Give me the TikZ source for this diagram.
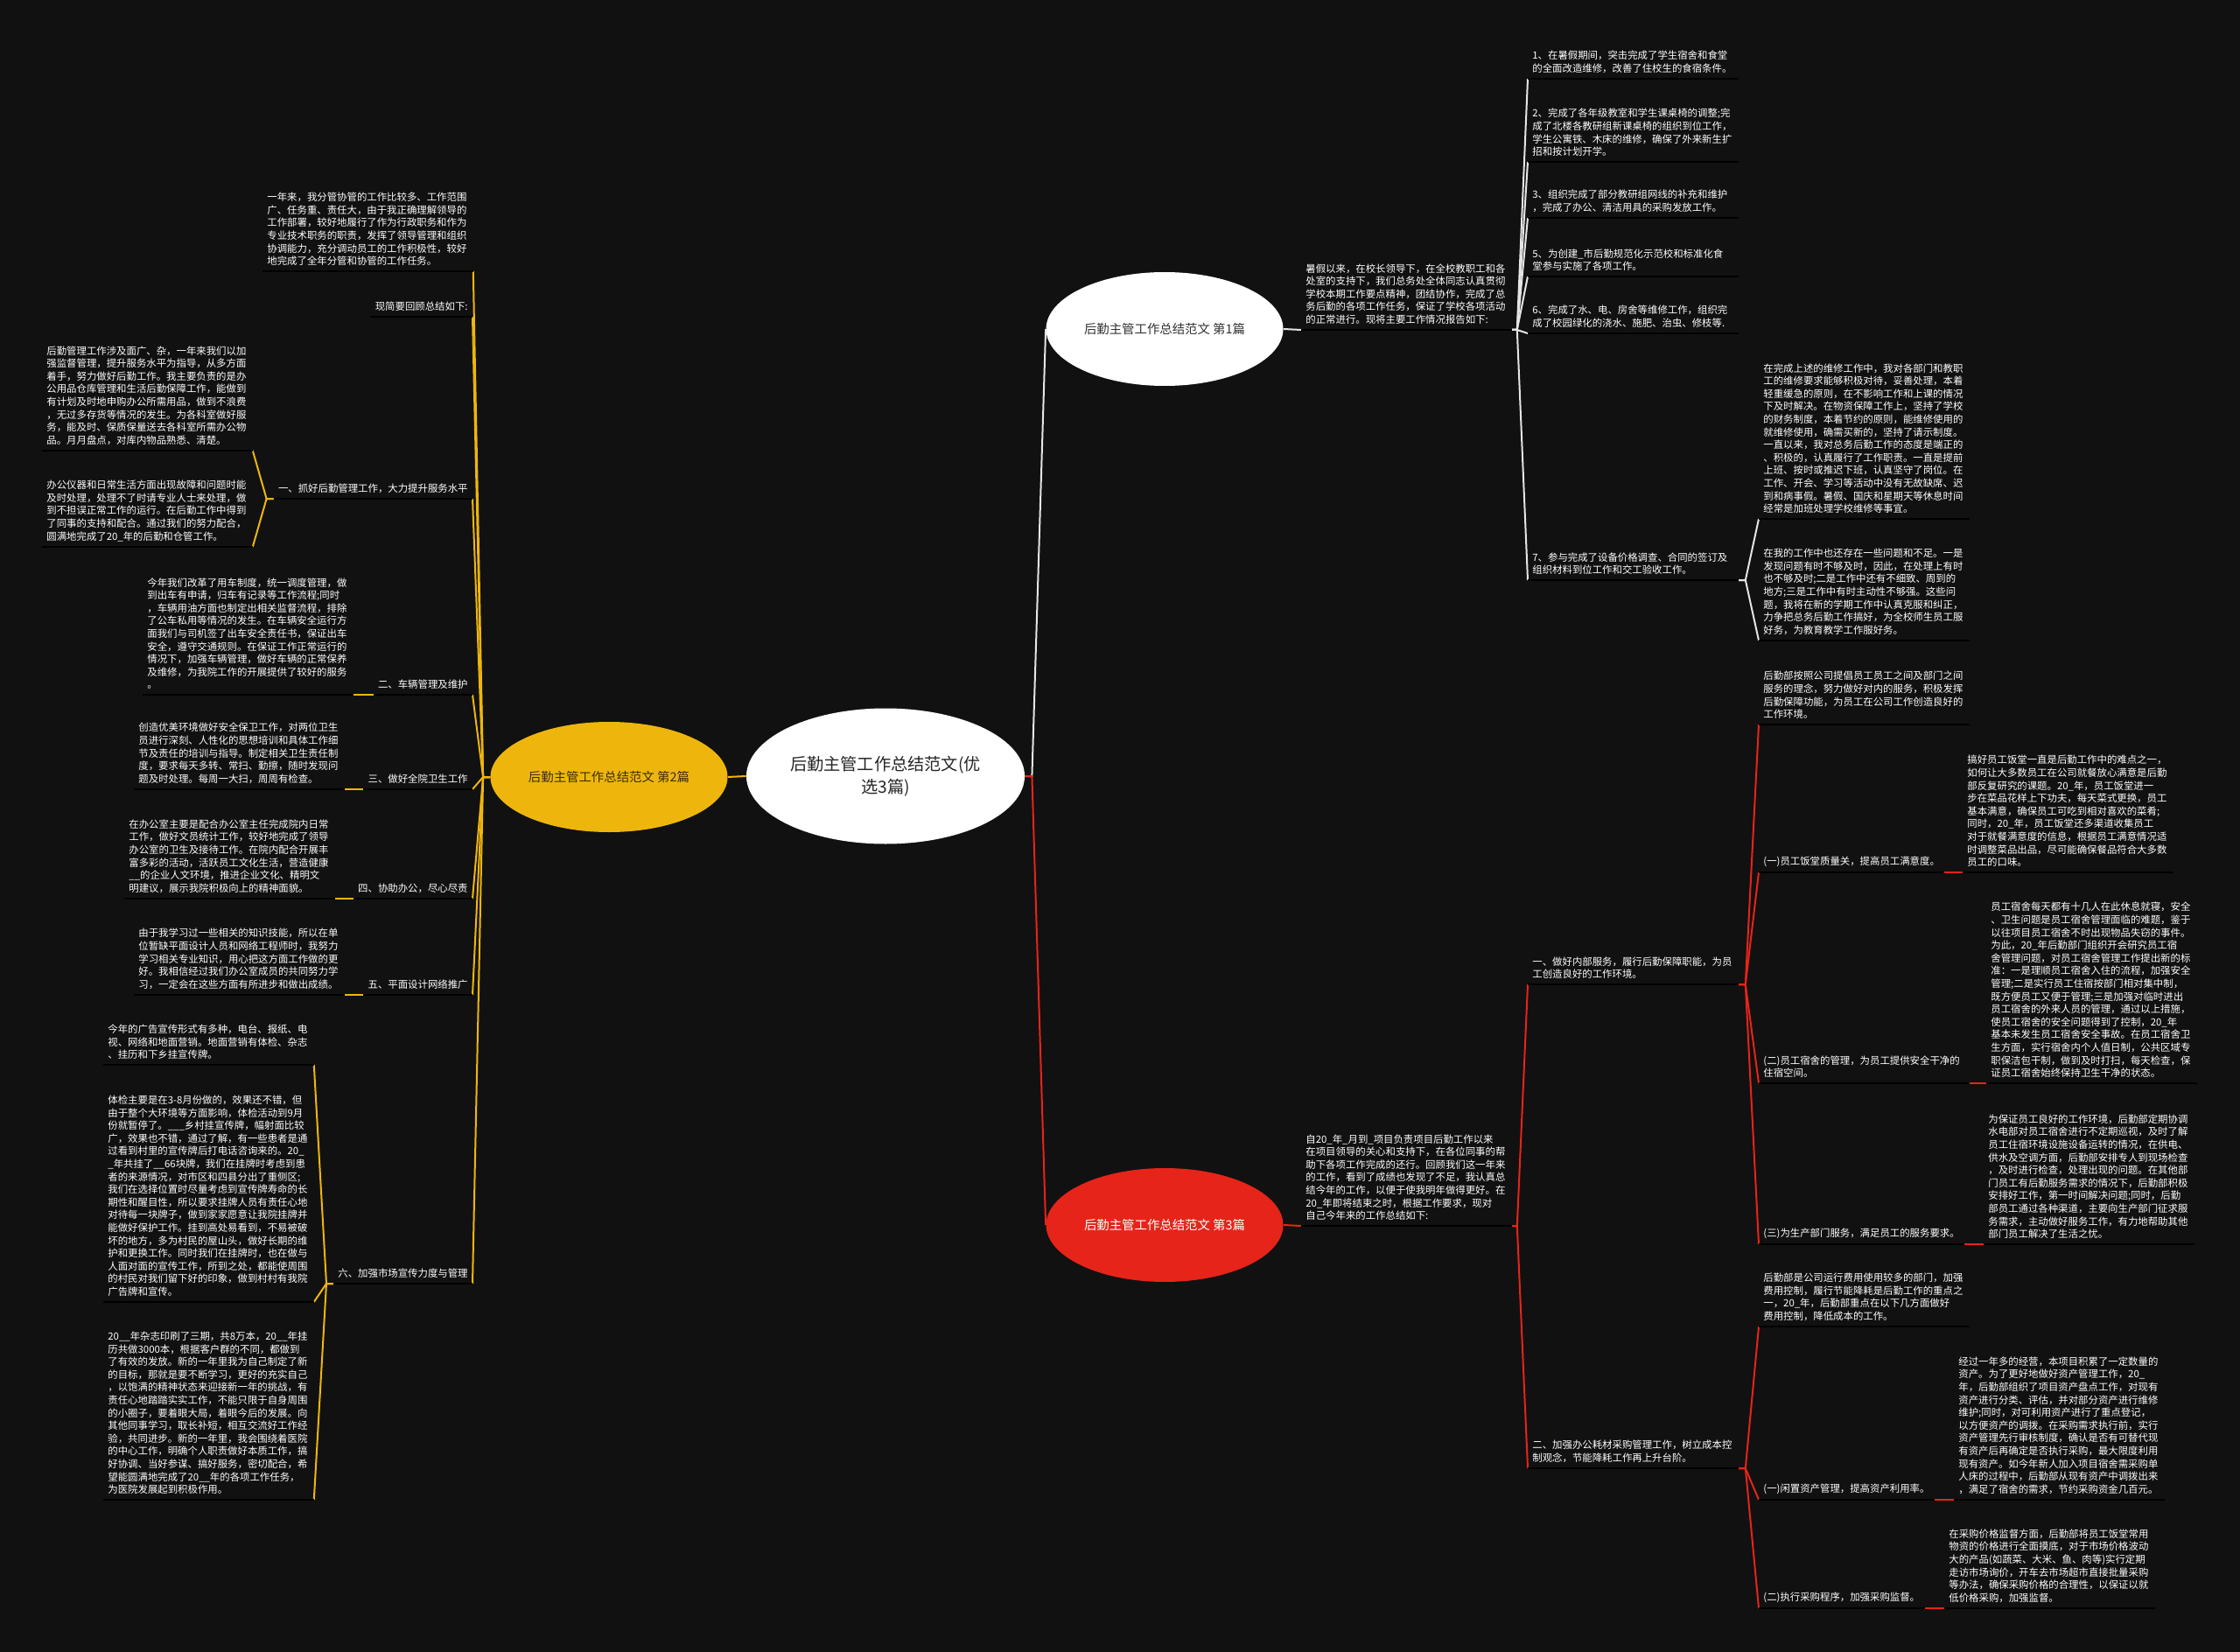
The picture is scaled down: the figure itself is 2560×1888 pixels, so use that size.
\documentclass[tikz,border=0pt]{standalone}
\usepackage{fontspec}
\setmainfont{Noto Sans CJK SC}
\usetikzlibrary{shapes.geometric}

\definecolor{bgc}{RGB}{17,17,17}
\definecolor{gold}{RGB}{238,182,12}
\definecolor{redc}{RGB}{230,36,26}
\definecolor{pinkgray}{RGB}{216,206,206}

\begin{document}
\begin{tikzpicture}[
    x=0.5pt, y=-0.5pt,
    line/.style  = {line width=1pt},
    wline/.style = {line, draw=white!90!black},
    yline/.style = {line, draw=gold},
    rline/.style = {line, draw=redc},
    uline/.style = {line width=1.1pt, draw=black},
    topic/.style = {ellipse, inner sep=0pt, minimum width=135.5pt, minimum height=65pt,
                    font=\fontsize{7.2pt}{9pt}\selectfont},
    txt/.style   = {anchor=south west, align=left, inner xsep=2.5pt, inner ysep=3pt,
                    text=white, font=\fontsize{5.7pt}{7.3pt}\selectfont},
    para/.style  = {txt, text width=115pt}
]

\fill[bgc] (0,0) rectangle (2560,1888);
\useasboundingbox (0,0) rectangle (2560,1888);

% centre and the three topics
\node[topic, fill=white, text=black!85, minimum width=159pt, minimum height=77.5pt,
      align=center, font=\fontsize{9.6pt}{13pt}\selectfont] (c) at (1012,887)
      {后勤主管工作总结范文(优\\选3篇)};
\node[topic, fill=white, text=black!80] (b1) at (1331,376) {后勤主管工作总结范文 第1篇};
\node[topic, fill=gold, text=black!75!gold, minimum height=63pt] (b2) at (696,888) {后勤主管工作总结范文 第2篇};
\node[topic, fill=redc, text=white] (b3) at (1331,1400) {后勤主管工作总结范文 第3篇};

\draw[yline] (c.west) -- (b2.east);
\draw[wline] (c.east) -- ++(8,0) -- (b1.west);
\draw[rline] (c.east) -- ++(8,0) -- (b3.west);

% ---- 第1篇 ----
\begin{scope}[every node/.append style={text=pinkgray}]
\node[para] (i0) at (1487,377) {暑假以来，在校长领导下，在全校教职工和各\\处室的支持下，我们总务处全体同志认真贯彻\\学校本期工作要点精神，团结协作，完成了总\\务后勤的各项工作任务，保证了学校各项活动\\的正常进行。现将主要工作情况报告如下:};
\node[para] (i1) at (1746,90) {1、在暑假期间，突击完成了学生宿舍和食堂\\的全面改造维修，改善了住校生的食宿条件。};
\node[para] (i2) at (1746,185) {2、完成了各年级教室和学生课桌椅的调整;完\\成了北楼各教研组新课桌椅的组织到位工作，\\学生公寓铁、木床的维修，确保了外来新生扩\\招和按计划开学。};
\node[para] (i3) at (1746,249) {3、组织完成了部分教研组网线的补充和维护\\，完成了办公、清洁用具的采购发放工作。};
\node[para] (i5) at (1746,316) {5、为创建\_市后勤规范化示范校和标准化食\\堂参与实施了各项工作。};
\node[para] (i6) at (1746,381) {6、完成了水、电、房舍等维修工作，组织完\\成了校园绿化的浇水、施肥、治虫、修枝等.};
\node[para] (i7) at (1746,663) {7、参与完成了设备价格调查、合同的签订及\\组织材料到位工作和交工验收工作。};
\node[para] (i7a) at (2010,593) {在完成上述的维修工作中，我对各部门和教职\\工的维修要求能够积极对待，妥善处理，本着\\轻重缓急的原则，在不影响工作和上课的情况\\下及时解决。在物资保障工作上，坚持了学校\\的财务制度，本着节约的原则，能维修使用的\\就维修使用，确需买新的，坚持了请示制度。\\一直以来，我对总务后勤工作的态度是端正的\\、积极的，认真履行了工作职责。一直是提前\\上班、按时或推迟下班，认真坚守了岗位。在\\工作、开会、学习等活动中没有无故缺席、迟\\到和病事假。暑假、国庆和星期天等休息时间\\经常是加班处理学校维修等事宜。};
\node[para] (i7b) at (2010,732) {在我的工作中也还存在一些问题和不足。一是\\发现问题有时不够及时，因此，在处理上有时\\也不够及时;二是工作中还有不细致、周到的\\地方;三是工作中有时主动性不够强。这些问\\题，我将在新的学期工作中认真克服和纠正，\\力争把总务后勤工作搞好，为全校师生员工服\\好务，为教育教学工作服好务。};
\end{scope}

\draw[wline] (b1.east) -- (i0.south west);
\foreach \k in {i1,i2,i3,i5,i6,i7}
    \draw[wline] (i0.south east) -- ++(6,0) -- (\k.south west);
\foreach \k in {i7a,i7b}
    \draw[wline] (i7.south east) -- ++(8,0) -- (\k.south west);

% ---- 第2篇 ----
\node[para] (l0) at (300,310) {一年来，我分管协管的工作比较多、工作范围\\广、任务重、责任大，由于我正确理解领导的\\工作部署，较好地履行了作为行政职务和作为\\专业技术职务的职责，发挥了领导管理和组织\\协调能力，充分调动员工的工作积极性，较好\\地完成了全年分管和协管的工作任务。};
\node[txt, anchor=south east] (l1) at (540,362) {现简要回顾总结如下:};
\node[txt, anchor=south east] (s1) at (540,570) {一、抓好后勤管理工作，大力提升服务水平};
\node[txt, anchor=south east] (s2) at (540,794) {二、车辆管理及维护};
\node[txt, anchor=south east] (s3) at (540,902) {三、做好全院卫生工作};
\node[txt, anchor=south east] (s4) at (540,1027) {四、协助办公，尽心尽责};
\node[txt, anchor=south east] (s5) at (540,1137) {五、平面设计网络推广};
\node[txt, anchor=south east] (s6) at (540,1467) {六、加强市场宣传力度与管理};

\node[para] (c11) at (48,515) {后勤管理工作涉及面广、杂，一年来我们以加\\强监督管理，提升服务水平为指导，从多方面\\着手，努力做好后勤工作。我主要负责的是办\\公用品仓库管理和生活后勤保障工作，能做到\\有计划及时地申购办公所需用品，做到不浪费\\，无过多存货等情况的发生。为各科室做好服\\务，能及时、保质保量送去各科室所需办公物\\品。月月盘点，对库内物品熟悉、清楚。};
\node[para] (c12) at (48,625) {办公仪器和日常生活方面出现故障和问题时能\\及时处理，处理不了时请专业人士来处理，做\\到不担误正常工作的运行。在后勤工作中得到\\了同事的支持和配合。通过我们的努力配合，\\圆满地完成了20\_年的后勤和仓管工作。};
\node[para] (c21) at (163,794) {今年我们改革了用车制度，统一调度管理，做\\到出车有申请，归车有记录等工作流程;同时\\，车辆用油方面也制定出相关监督流程，排除\\了公车私用等情况的发生。在车辆安全运行方\\面我们与司机签了出车安全责任书，保证出车\\安全，遵守交通规则。在保证工作正常运行的\\情况下，加强车辆管理，做好车辆的正常保养\\及维修，为我院工作的开展提供了较好的服务\\。};
\node[para] (c31) at (153,902) {创造优美环境做好安全保卫工作，对两位卫生\\员进行深刻、人性化的思想培训和具体工作细\\节及责任的培训与指导。制定相关卫生责任制\\度，要求每天多转、常扫、勤擦，随时发现问\\题及时处理。每周一大扫，周周有检查。};
\node[para] (c41) at (142,1027) {在办公室主要是配合办公室主任完成院内日常\\工作，做好文员统计工作，较好地完成了领导\\办公室的卫生及接待工作。在院内配合开展丰\\富多彩的活动，活跃员工文化生活，营造健康\\\_\_的企业人文环境，推进企业文化、精明文\\明建议，展示我院积极向上的精神面貌。};
\node[para] (c51) at (153,1137) {由于我学习过一些相关的知识技能，所以在单\\位暂缺平面设计人员和网络工程师时，我努力\\学习相关专业知识，用心把这方面工作做的更\\好。我相信经过我们办公室成员的共同努力学\\习，一定会在这些方面有所进步和做出成绩。};
\node[para] (c61) at (118,1217) {今年的广告宣传形式有多种，电台、报纸、电\\视、网络和地面营销。地面营销有体检、杂志\\、挂历和下乡挂宣传牌。};
\node[para] (c62) at (118,1488) {体检主要是在3-8月份做的，效果还不错，但\\由于整个大环境等方面影响，体检活动到9月\\份就暂停了。\_\_\_乡村挂宣传牌，幅射面比较\\广，效果也不错，通过了解，有一些患者是通\\过看到村里的宣传牌后打电话咨询来的。20\_\\\_年共挂了\_\_66块牌，我们在挂牌时考虑到患\\者的来源情况，对市区和四县分出了重侧区;\\我们在选择位置时尽量考虑到宣传牌寿命的长\\期性和醒目性，所以要求挂牌人员有责任心地\\对待每一块牌子，做到家家愿意让我院挂牌并\\能做好保护工作。挂到高处易看到，不易被破\\坏的地方，多为村民的屋山头，做好长期的维\\护和更换工作。同时我们在挂牌时，也在做与\\人面对面的宣传工作，所到之处，都能使周围\\的村民对我们留下好的印象，做到村村有我院\\广告牌和宣传。};
\node[para] (c63) at (118,1714) {20\_\_年杂志印刷了三期，共8万本，20\_\_年挂\\历共做3000本，根据客户群的不同，都做到\\了有效的发放。新的一年里我为自己制定了新\\的目标，那就是要不断学习，更好的充实自己\\，以饱满的精神状态来迎接新一年的挑战，有\\责任心地踏踏实实工作，不能只限于自身周围\\的小圈子，要着眼大局，着眼今后的发展。向\\其他同事学习，取长补短，相互交流好工作经\\验，共同进步。新的一年里，我会围绕着医院\\的中心工作，明确个人职责做好本质工作，搞\\好协调、当好参谋、搞好服务，密切配合，希\\望能圆满地完成了20\_\_年的各项工作任务，\\为医院发展起到积极作用。};

\foreach \k in {l0,l1,s1,s2,s3,s4,s5,s6}
    \draw[yline] (b2.west) -- ++(-8,0) -- (\k.south east);
\foreach \p/\k in {s1/c11, s1/c12, s2/c21, s3/c31, s4/c41, s5/c51, s6/c61, s6/c62, s6/c63}
    \draw[yline] (\p.south west) -- ++(-8,0) -- (\k.south east);

% ---- 第3篇 ----
\node[para] (r0) at (1487,1401) {自20\_年\_月到\_项目负责项目后勤工作以来\\在项目领导的关心和支持下，在各位同事的帮\\助下各项工作完成的还行。回顾我们这一年来\\的工作，看到了成绩也发现了不足，我认真总\\结今年的工作，以便于使我明年做得更好。在\\20\_年即将结束之时，根据工作要求，现对\\自己今年来的工作总结如下:};
\node[para] (r1) at (1746,1125) {一、做好内部服务，履行后勤保障职能，为员\\工创造良好的工作环境。};
\node[para] (r2) at (1746,1678) {二、加强办公耗材采购管理工作，树立成本控\\制观念，节能降耗工作再上升台阶。};

\node[para] (r11) at (2010,828) {后勤部按照公司提倡员工员工之间及部门之间\\服务的理念，努力做好对内的服务，积极发挥\\后勤保障功能，为员工在公司工作创造良好的\\工作环境。};
\node[txt] (r12) at (2010,997) {(一)员工饭堂质量关，提高员工满意度。};
\node[para] (r12a) at (2243,997) {搞好员工饭堂一直是后勤工作中的难点之一，\\如何让大多数员工在公司就餐放心满意是后勤\\部反复研究的课题。20\_年，员工饭堂进一\\步在菜品花样上下功夫，每天菜式更换，员工\\基本满意，确保员工可吃到相对喜欢的菜肴;\\同时，20\_年，员工饭堂还多渠道收集员工\\对于就餐满意度的信息，根据员工满意情况适\\时调整菜品出品，尽可能确保餐品符合大多数\\员工的口味。};
\node[para] (r13) at (2010,1238) {(二)员工宿舍的管理，为员工提供安全干净的\\住宿空间。};
\node[para] (r13a) at (2270,1238) {员工宿舍每天都有十几人在此休息就寝，安全\\、卫生问题是员工宿舍管理面临的难题，鉴于\\以往项目员工宿舍不时出现物品失窃的事件。\\为此，20\_年后勤部门组织开会研究员工宿\\舍管理问题，对员工宿舍管理工作提出新的标\\准：一是理顺员工宿舍入住的流程，加强安全\\管理;二是实行员工住宿按部门相对集中制，\\既方便员工又便于管理;三是加强对临时进出\\员工宿舍的外来人员的管理，通过以上措施，\\使员工宿舍的安全问题得到了控制，20\_年\\基本未发生员工宿舍安全事故。在员工宿舍卫\\生方面，实行宿舍内个人值日制，公共区域专\\职保洁包干制，做到及时打扫，每天检查，保\\证员工宿舍始终保持卫生干净的状态。};
\node[txt] (r14) at (2010,1422) {(三)为生产部门服务，满足员工的服务要求。};
\node[para] (r14a) at (2267,1422) {为保证员工良好的工作环境，后勤部定期协调\\水电部对员工宿舍进行不定期巡视，及时了解\\员工住宿环境设施设备运转的情况，在供电、\\供水及空调方面，后勤部安排专人到现场检查\\，及时进行检查，处理出现的问题。在其他部\\门员工有后勤服务需求的情况下，后勤部积极\\安排好工作，第一时间解决问题;同时，后勤\\部员工通过各种渠道，主要向生产部门征求服\\务需求，主动做好服务工作，有力地帮助其他\\部门员工解决了生活之忧。};

\node[para] (r21) at (2010,1516) {后勤部是公司运行费用使用较多的部门，加强\\费用控制，履行节能降耗是后勤工作的重点之\\一，20\_年，后勤部重点在以下几方面做好\\费用控制，降低成本的工作。};
\node[txt] (r22) at (2010,1714) {(一)闲置资产管理，提高资产利用率。};
\node[para] (r22a) at (2233,1714) {经过一年多的经营，本项目积累了一定数量的\\资产。为了更好地做好资产管理工作，20\_\\年，后勤部组织了项目资产盘点工作，对现有\\资产进行分类、评估，并对部分资产进行维修\\维护;同时，对可利用资产进行了重点登记，\\以方便资产的调拨。在采购需求执行前，实行\\资产管理先行审核制度，确认是否有可替代现\\有资产后再确定是否执行采购，最大限度利用\\现有资产。如今年新人加入项目宿舍需采购单\\人床的过程中，后勤部从现有资产中调拨出来\\，满足了宿舍的需求，节约采购资金几百元。};
\node[txt] (r23) at (2010,1838) {(二)执行采购程序，加强采购监督。};
\node[para] (r23a) at (2222,1838) {在采购价格监督方面，后勤部将员工饭堂常用\\物资的价格进行全面摸底，对于市场价格波动\\大的产品(如蔬菜、大米、鱼、肉等)实行定期\\走访市场询价，开车去市场超市直接批量采购\\等办法，确保采购价格的合理性，以保证以就\\低价格采购，加强监督。};

\draw[rline] (b3.east) -- (r0.south west);
\foreach \k in {r1,r2}
    \draw[rline] (r0.south east) -- ++(6,0) -- (\k.south west);
\foreach \k in {r11,r12,r13,r14}
    \draw[rline] (r1.south east) -- ++(8,0) -- (\k.south west);
\foreach \k in {r21,r22,r23}
    \draw[rline] (r2.south east) -- ++(8,0) -- (\k.south west);
\foreach \p/\k in {r12/r12a, r13/r13a, r14/r14a, r22/r22a, r23/r23a}
    \draw[rline] (\p.south east) -- (\k.south west);

% underlines
\foreach \n in {i0,i1,i2,i3,i5,i6,i7,i7a,i7b,
                l0,l1,s1,s2,s3,s4,s5,s6,c11,c12,c21,c31,c41,c51,c61,c62,c63,
                r0,r1,r2,r11,r12,r12a,r13,r13a,r14,r14a,r21,r22,r22a,r23,r23a}
    \draw[uline] (\n.south west) -- (\n.south east);

\end{tikzpicture}
\end{document}
